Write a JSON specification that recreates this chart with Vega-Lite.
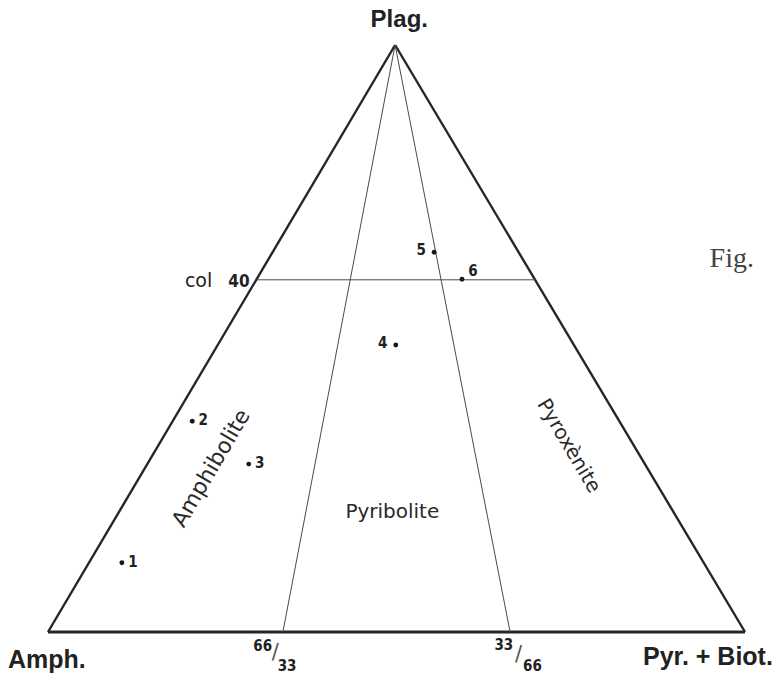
{
  "$schema": "https://vega.github.io/schema/vega-lite/v6.json",
  "width": 697,
  "height": 587,
  "autosize": {"type": "none"},
  "padding": {"left": 48, "top": 45, "right": 30, "bottom": 45},
  "background": "white",
  "config": {"view": {"stroke": null}},
  "datasets": {
    "outline": [
      {"x": 0, "y": 0, "x2": 49.8, "y2": 100, "w": "side"},
      {"x": 49.8, "y": 100, "x2": 100, "y2": 0, "w": "side"},
      {"x": 0, "y": 0, "x2": 100, "y2": 0, "w": "base"}
    ],
    "inner": [
      {"x": 49.8, "y": 100, "x2": 33.7, "y2": 0},
      {"x": 49.8, "y": 100, "x2": 66.3, "y2": 0},
      {"x": 29.9, "y": 60, "x2": 69.9, "y2": 60}
    ],
    "samples": [
      {"id": "1", "x": 10.6, "y": 11.8},
      {"id": "2", "x": 20.7, "y": 35.9},
      {"id": "3", "x": 28.8, "y": 28.6},
      {"id": "4", "x": 49.9, "y": 48.9},
      {"id": "5", "x": 55.4, "y": 64.7},
      {"id": "6", "x": 59.4, "y": 60.1}
    ]
  },
  "encoding": {
    "x": {"field": "x", "type": "quantitative", "scale": {"domain": [0, 100], "nice": false, "zero": false}, "axis": null},
    "y": {"field": "y", "type": "quantitative", "scale": {"domain": [0, 100], "nice": false, "zero": false}, "axis": null}
  },
  "layer": [
    {
      "data": {"name": "outline"},
      "transform": [{"filter": "datum.w === 'side'"}],
      "mark": {"type": "rule", "color": "#262626", "strokeWidth": 2.4},
      "encoding": {"x2": {"field": "x2"}, "y2": {"field": "y2"}}
    },
    {
      "data": {"name": "outline"},
      "transform": [{"filter": "datum.w === 'base'"}],
      "mark": {"type": "rule", "color": "#262626", "strokeWidth": 3.2},
      "encoding": {"x2": {"field": "x2"}, "y2": {"field": "y2"}}
    },
    {
      "data": {"name": "inner"},
      "mark": {"type": "rule", "color": "#4a4a4a", "strokeWidth": 1},
      "encoding": {"x2": {"field": "x2"}, "y2": {"field": "y2"}}
    },
    {
      "data": {"name": "samples"},
      "mark": {"type": "circle", "color": "#1a1a1a", "size": 24, "opacity": 1}
    },
    {
      "data": {"name": "samples"},
      "transform": [{"filter": "datum.id === '1' || datum.id === '2' || datum.id === '3'"}],
      "mark": {"type": "text", "align": "center", "baseline": "middle", "dx": 11, "dy": -1, "font": "DejaVu Sans Condensed", "fontWeight": "bold", "fontSize": 15, "color": "#222222"},
      "encoding": {"text": {"field": "id"}}
    },
    {
      "data": {"name": "samples"},
      "transform": [{"filter": "datum.id === '6'"}],
      "mark": {"type": "text", "align": "center", "baseline": "middle", "dx": 11, "dy": -8, "font": "DejaVu Sans Condensed", "fontWeight": "bold", "fontSize": 15, "color": "#222222"},
      "encoding": {"text": {"field": "id"}}
    },
    {
      "data": {"name": "samples"},
      "transform": [{"filter": "datum.id === '4' || datum.id === '5'"}],
      "mark": {"type": "text", "align": "center", "baseline": "middle", "dx": -13, "dy": -2, "font": "DejaVu Sans Condensed", "fontWeight": "bold", "fontSize": 15, "color": "#222222"},
      "encoding": {"text": {"field": "id"}}
    },
    {
      "data": {"values": [{"t": "Plag.", "x": 50.4, "y": 103.1}]},
      "mark": {"type": "text", "align": "center", "baseline": "alphabetic", "font": "Liberation Sans", "fontWeight": "bold", "fontSize": 24, "color": "#222222"},
      "encoding": {"text": {"field": "t"}}
    },
    {
      "data": {"values": [{"t": "Amph.", "x": -5.74, "y": -6.1}]},
      "mark": {"type": "text", "align": "left", "baseline": "alphabetic", "font": "Liberation Sans", "fontWeight": "bold", "fontSize": 25, "color": "#222222"},
      "encoding": {"text": {"field": "t"}}
    },
    {
      "data": {"values": [{"t": "Pyr. + Biot.", "x": 104.0, "y": -5.6}]},
      "mark": {"type": "text", "align": "right", "baseline": "alphabetic", "font": "Liberation Sans", "fontWeight": "bold", "fontSize": 25, "color": "#222222"},
      "encoding": {"text": {"field": "t"}}
    },
    {
      "data": {"values": [{"t": "col", "x": 21.6, "y": 58.8}]},
      "mark": {"type": "text", "align": "center", "baseline": "alphabetic", "font": "DejaVu Sans", "fontSize": 19, "color": "#222222"},
      "encoding": {"text": {"field": "t"}}
    },
    {
      "data": {"values": [{"t": "40", "x": 27.4, "y": 58.8}]},
      "mark": {"type": "text", "align": "center", "baseline": "alphabetic", "font": "DejaVu Sans Condensed", "fontWeight": "bold", "fontSize": 17, "color": "#222222"},
      "encoding": {"text": {"field": "t"}}
    },
    {
      "data": {"values": [{"t": "Fig.", "x": 98.1, "y": 62.2}]},
      "mark": {"type": "text", "align": "center", "baseline": "alphabetic", "font": "Liberation Serif", "fontSize": 28, "color": "#444444"},
      "encoding": {"text": {"field": "t"}}
    },
    {
      "data": {"values": [{"t": "Pyribolite", "x": 49.4, "y": 20.4}]},
      "mark": {"type": "text", "align": "center", "baseline": "middle", "font": "DejaVu Sans", "fontSize": 20, "color": "#2a2a2a"},
      "encoding": {"text": {"field": "t"}}
    },
    {
      "data": {"values": [{"t": "Amphibolite", "x": 23.4, "y": 27.9}]},
      "mark": {"type": "text", "align": "center", "baseline": "middle", "angle": 300.4, "font": "DejaVu Sans", "fontSize": 22, "color": "#2a2a2a"},
      "encoding": {"text": {"field": "t"}}
    },
    {
      "data": {"values": [{"t": "Pyroxènite", "x": 74.7, "y": 31.7}]},
      "mark": {"type": "text", "align": "center", "baseline": "middle", "angle": 59.4, "font": "DejaVu Sans", "fontSize": 20, "color": "#2a2a2a"},
      "encoding": {"text": {"field": "t"}}
    },
    {
      "data": {"values": [
        {"t": "66", "x": 30.8, "y": -2.4},
        {"t": "33", "x": 34.3, "y": -5.8},
        {"t": "33", "x": 65.4, "y": -2.2},
        {"t": "66", "x": 69.5, "y": -5.8}
      ]},
      "mark": {"type": "text", "align": "center", "baseline": "middle", "font": "DejaVu Sans Condensed", "fontWeight": "bold", "fontSize": 15, "color": "#222222"},
      "encoding": {"text": {"field": "t"}}
    },
    {
      "data": {"values": [
        {"t": "/", "x": 32.6, "y": -3.6},
        {"t": "/", "x": 67.5, "y": -4.0}
      ]},
      "mark": {"type": "text", "align": "center", "baseline": "middle", "font": "DejaVu Sans", "fontSize": 21, "color": "#555555"},
      "encoding": {"text": {"field": "t"}}
    }
  ]
}
